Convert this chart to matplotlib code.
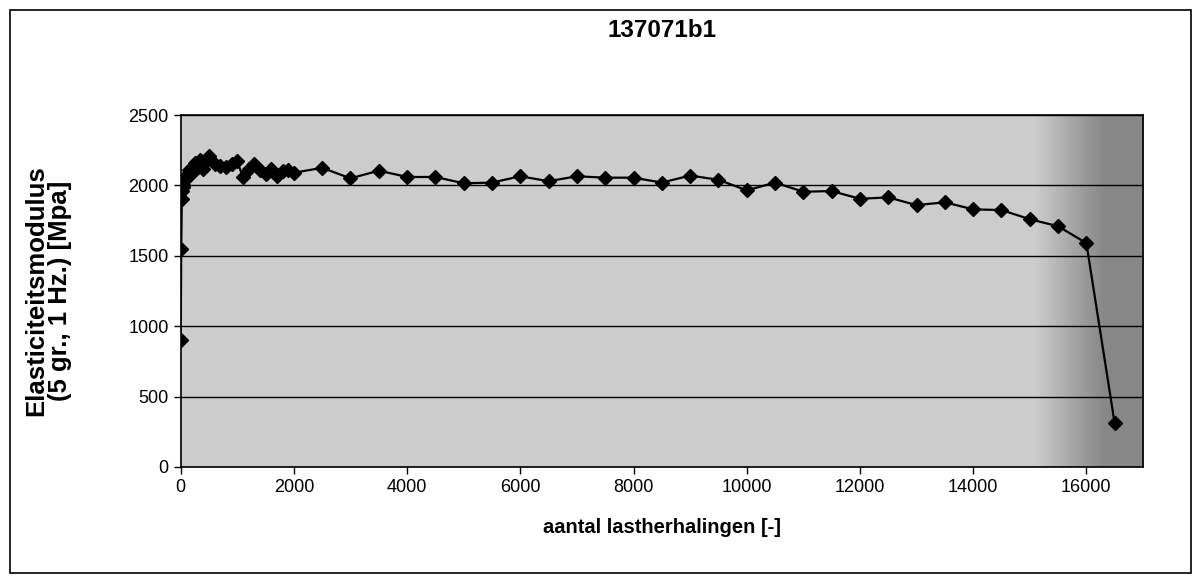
import numpy as np
import matplotlib
matplotlib.use('Agg')
import matplotlib.pyplot as plt
from matplotlib.patches import Rectangle

plt.rcParams['font.family'] = ['Liberation Sans', 'DejaVu Sans']

# Data
cycles = [0, 10, 20, 30, 40, 50, 75, 100, 150, 200, 250, 300, 350, 400, 450, 500,
          600, 700, 800, 900, 1000, 1100, 1200, 1300, 1400, 1500, 1600, 1700, 1800,
          1900, 2000, 2500, 3000, 3500, 4000, 4500, 5000, 5500, 6000, 6500, 7000,
          7500, 8000, 8500, 9000, 9500, 10000, 10500, 11000, 11500, 12000, 12500,
          13000, 13500, 14000, 14500, 15000, 15500, 16000, 16500]
modulus = [900, 1550, 1900, 1960, 2000, 1990, 2040, 2070, 2110, 2090, 2160, 2130, 2180,
           2120, 2170, 2210, 2150, 2140, 2130, 2150, 2170, 2060, 2120, 2150, 2110,
           2080, 2120, 2070, 2100, 2110, 2090, 2125, 2050, 2105, 2060, 2060, 2015,
           2020, 2065, 2030, 2065, 2055, 2055, 2020, 2070, 2040, 1965, 2020, 1955,
           1960, 1905, 1915, 1860, 1880, 1830, 1825, 1760, 1710, 1590, 310]
x_ticks = [0, 2000, 4000, 6000, 8000, 10000, 12000, 14000, 16000]
y_ticks = [0, 500, 1000, 1500, 2000, 2500]

fig = plt.figure(figsize=(12.02, 5.83), dpi=100)
fig.patch.set_facecolor('white')

# Outer chart border
fig.patches.append(Rectangle((0.008, 0.017), 0.983, 0.966, transform=fig.transFigure,
                             fill=False, edgecolor='black', linewidth=1.2))

ax = fig.add_axes([0.1503, 0.199, 0.8006, 0.6037])

# Grey plot area, darker towards the right edge
xs = np.linspace(0, 17000, 300)
shade = np.tile(0.8 - 0.27 * np.clip((xs - 15100) / 1200, 0, 1), (2, 1))
ax.imshow(shade, extent=[0, 17000, 0, 2500], aspect='auto', cmap='gray',
          vmin=0, vmax=1, zorder=0, interpolation='bilinear')

ax.plot(cycles, modulus, color='black', linewidth=1.6, marker='D', markersize=7,
        markerfacecolor='black', markeredgecolor='black', zorder=3)

ax.set_xlim(0, 17000)
ax.set_ylim(0, 2500)
ax.set_xticks(x_ticks)
ax.set_yticks(y_ticks)
ax.grid(axis='y', color='black', linewidth=1.0)
ax.set_axisbelow(False)
ax.tick_params(axis='both', labelsize=13, direction='out', length=5, width=1, colors='black')
for spine in ax.spines.values():
    spine.set_linewidth(1.2)
    spine.set_color('black')

# Titles placed in figure coordinates
fig.text(0.551, 0.9485, '137071b1', fontsize=17.5, fontweight='bold', ha='center', va='center')
fig.text(0.551, 0.096, 'aantal lastherhalingen [-]', fontsize=14.5, fontweight='bold',
         ha='center', va='center')
fig.text(0.040, 0.502, 'Elasticiteitsmodulus\n(5 gr., 1 Hz.) [Mpa]', fontsize=18.5,
         fontweight='bold', rotation=90, ha='center', va='center', linespacing=1.0)

plt.savefig('out.png', dpi=100)
